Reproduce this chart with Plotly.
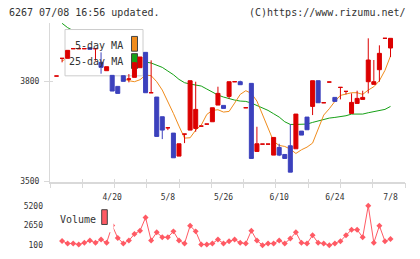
import plotly.graph_objects as go

# ---------------- data ----------------
date_labels = ["4/20", "5/8", "5/26", "6/10", "6/24", "7/8"]
date_index = [10, 20, 30, 40, 50, 60]

opens = [3815, 3868, 3868, 3897, 3897, 3897, 3900, 3897, 3856, 3831,
         3817, 3784, 3816, 3806, 3811, 3840, 3886, 3765, 3752, 3693,
         3660, 3644, 3575, 3641, 3653, 3658, 3665, 3671, 3678, 3728,
         3727, 3754, 3798, 3798, 3720, 3793, 3589, 3611, 3611, 3578,
         3601, 3580, 3606, 3597, 3650, 3692, 3724, 3801, 3735, 3797,
         3751, 3781, 3769, 3703, 3733, 3745, 3798, 3790, 3834, 3928,
         3899]
highs = [3815, 3868, 3892, 3897, 3897, 3897, 3900, 3897, 3886, 3843,
         3817, 3784, 3816, 3821, 3855, 3872, 3886, 3862, 3752, 3693,
         3660, 3644, 3612, 3641, 3801, 3798, 3665, 3671, 3720, 3783,
         3727, 3798, 3798, 3801, 3720, 3793, 3663, 3611, 3611, 3631,
         3612, 3580, 3671, 3701, 3650, 3692, 3801, 3801, 3735, 3797,
         3751, 3781, 3769, 3763, 3771, 3771, 3928, 3863, 3907, 3928,
         3928]
lows = [3815, 3856, 3868, 3897, 3897, 3897, 3895, 3861, 3822, 3831,
        3770, 3763, 3799, 3796, 3811, 3840, 3765, 3765, 3634, 3626,
        3653, 3570, 3575, 3614, 3653, 3648, 3665, 3671, 3678, 3728,
        3718, 3747, 3798, 3789, 3720, 3568, 3589, 3611, 3611, 3578,
        3575, 3568, 3527, 3597, 3638, 3654, 3698, 3735, 3735, 3797,
        3739, 3745, 3760, 3703, 3733, 3745, 3763, 3790, 3798, 3928,
        3872]
closes = [3815, 3868, 3892, 3897, 3897, 3897, 3895, 3897, 3841, 3843,
          3770, 3763, 3799, 3806, 3855, 3872, 3765, 3765, 3634, 3653,
          3660, 3570, 3612, 3641, 3801, 3715, 3665, 3671, 3720, 3763,
          3718, 3798, 3798, 3789, 3720, 3568, 3612, 3611, 3611, 3631,
          3578, 3568, 3527, 3701, 3638, 3654, 3801, 3735, 3735, 3797,
          3739, 3781, 3769, 3736, 3748, 3751, 3863, 3798, 3883, 3928,
          3928]

ma5 = [None, 3860, 3870, 3880, 3888, 3893, 3896, 3897, 3890, 3878,
       3860, 3835, 3807, 3801, 3798, 3804, 3818, 3816, 3798, 3773,
       3739, 3703, 3665, 3629, 3630, 3653, 3668, 3700, 3712, 3714,
       3707, 3709, 3734, 3760, 3771, 3763, 3740, 3698, 3661, 3619,
       3607, 3604, 3596, 3583, 3594, 3602, 3614, 3658, 3698, 3717,
       3739, 3757, 3760, 3765, 3765, 3760, 3773, 3783, 3801, 3832,
       3875]
ma25 = [None, 3973, 3960, 3951, 3942, 3934, 3925, 3916, 3907, 3900,
        3892, 3886, 3881, 3875, 3869, 3863, 3857, 3854, 3848, 3841,
        3830, 3819, 3805, 3795, 3791, 3788, 3785, 3776, 3767, 3758,
        3752, 3747, 3743, 3740, 3739, 3734, 3727, 3721, 3712, 3702,
        3692, 3678, 3670, 3670, 3670, 3671, 3676, 3681, 3685, 3689,
        3691, 3693, 3696, 3701, 3701, 3701, 3705, 3709, 3711, 3715,
        3724]
volume = [None, 650, 317, 317, 190, 400, 700, 400, 825, 400,
          2650, 1030, 317, 700, 1540, 1970, 3670, 700, 1760, 1120,
          1120, 1885, 700, 317, 2610, 1885, 190, 190, 317, 825,
          317, 610, 825, 400, 317, 1970, 700, 100, 317, 317,
          700, 317, 955, 1760, 400, 317, 1375, 400, 317, 100,
          317, 610, 1375, 2100, 2100, 1120, 5200, 400, 2610, 610,
          900]

price_ticks = [3500, 3800]
volume_ticks = [100, 2650, 5200]

# ---------------- styling ----------------
W, H = 420, 259
RED = "#dc0000"
BLUE = "#3c41bd"
ORANGE = "#f08c1c"
GREEN = "#16a016"
VOLC = "#ff5a64"
GRID = "#d9d9d9"
TXT = "#333333"
FONT = "DejaVu Sans Mono"

idx = list(range(len(opens)))
X_RANGE = [-1.17, 62.6]
Y_RANGE = [3498.5, 3975]
V_RANGE = [-410, 5710]

# plot area in pixels
PX_L, PX_R, PX_T, PX_B = 50, 405, 23, 184.5
VX_T, VX_B = 205, 253

xdom = [PX_L / W, PX_R / W]
ydom = [(H - PX_B) / H, (H - PX_T) / H]
vdom = [(H - VX_B) / H, (H - VX_T) / H]

fig = go.Figure()

# moving averages (main subplot, drawn first)
fig.add_trace(go.Scatter(x=idx, y=ma25, mode="lines", line=dict(color=GREEN, width=1),
                         hoverinfo="skip", showlegend=False, xaxis="x", yaxis="y"))
fig.add_trace(go.Scatter(x=idx, y=ma5, mode="lines", line=dict(color=ORANGE, width=1),
                         hoverinfo="skip", showlegend=False, xaxis="x", yaxis="y"))

# legend box (pixel overlay axes, above the lines, below the candles)
def rect(x0, y0, x1, y1):
    return [x0, x1, x1, x0, x0], [y0, y0, y1, y1, y0]

bx, by = rect(65, 30, 143, 77)
fig.add_trace(go.Scatter(x=bx, y=by, mode="lines", fill="toself", fillcolor="white",
                         line=dict(color="#cccccc", width=1), hoverinfo="skip",
                         showlegend=False, xaxis="x2", yaxis="y2"))
sx, sy = rect(131.5, 37, 137.5, 52)
fig.add_trace(go.Scatter(x=sx, y=sy, mode="lines", fill="toself", fillcolor=ORANGE,
                         line=dict(color="#444444", width=1), hoverinfo="skip",
                         showlegend=False, xaxis="x2", yaxis="y2"))
sx, sy = rect(131.5, 54.5, 137.5, 69.5)
fig.add_trace(go.Scatter(x=sx, y=sy, mode="lines", fill="toself", fillcolor=GREEN,
                         line=dict(color="#444444", width=1), hoverinfo="skip",
                         showlegend=False, xaxis="x2", yaxis="y2"))

# candles (overlay subplot, on top)
for up, col in ((True, RED), (False, BLUE)):
    sel = [i for i in idx if (closes[i] >= opens[i]) == up]
    fig.add_trace(go.Candlestick(
        x=sel,
        open=[opens[i] for i in sel], high=[highs[i] for i in sel],
        low=[lows[i] for i in sel], close=[closes[i] for i in sel],
        increasing=dict(line=dict(color=col, width=1), fillcolor=col),
        decreasing=dict(line=dict(color=col, width=1), fillcolor=col),
        whiskerwidth=0, hoverinfo="skip", showlegend=False,
        xaxis="x3", yaxis="y3"))

# volume
fig.add_trace(go.Scatter(x=idx, y=volume, mode="lines+markers",
                         line=dict(color=VOLC, width=1),
                         marker=dict(symbol="diamond", size=4.6, color=VOLC),
                         hoverinfo="skip", showlegend=False, xaxis="x5", yaxis="y5"))

ndiv = 11
fig.update_layout(
    width=W, height=H, margin=dict(l=0, r=0, t=0, b=0),
    paper_bgcolor="white", plot_bgcolor="rgba(0,0,0,0)",
    font=dict(family=FONT, color=TXT, size=8),
    boxgap=0.28, boxgroupgap=0,
    xaxis=dict(domain=xdom, range=X_RANGE, anchor="y", showgrid=False, zeroline=False,
               showline=True, linecolor=GRID, linewidth=2, ticks="",
               tickmode="array", tickvals=date_index, ticktext=date_labels,
               tickfont=dict(size=8, color=TXT), ticklabelstandoff=7),
    yaxis=dict(domain=ydom, range=Y_RANGE, anchor="x", showgrid=False, zeroline=False,
               showline=True, linecolor=GRID, linewidth=1, ticks="outside", ticklen=5,
               tickcolor=GRID, tickwidth=1, tickmode="array", tickvals=price_ticks,
               ticktext=[str(v) for v in price_ticks], tickfont=dict(size=8, color=TXT),
               ticklabelstandoff=3),
    xaxis2=dict(overlaying="x", anchor="y2", range=[PX_L, PX_R], showgrid=False,
                zeroline=False, showline=False, showticklabels=False,
                ticks="inside", ticklen=3, tickcolor=GRID, tickwidth=1,
                tick0=PX_L, dtick=(PX_R - PX_L) / ndiv),
    yaxis2=dict(overlaying="y", anchor="x2", range=[PX_B, PX_T], showgrid=False,
                zeroline=False, showline=False, showticklabels=False, ticks=""),
    xaxis3=dict(overlaying="x", anchor="y3", range=X_RANGE, showgrid=False,
                zeroline=False, showline=False, showticklabels=False,
                ticks="outside", ticklen=5, tickcolor=GRID, tickwidth=1,
                tick0=X_RANGE[0], dtick=(X_RANGE[1] - X_RANGE[0]) / ndiv,
                rangeslider=dict(visible=False)),
    yaxis3=dict(overlaying="y", anchor="x3", range=Y_RANGE, showgrid=False,
                zeroline=False, showline=False, showticklabels=False,
                ticks="inside", ticklen=3, tickcolor=GRID, tickwidth=1,
                tickmode="array", tickvals=price_ticks),
    xaxis5=dict(domain=xdom, range=X_RANGE, anchor="y5", showgrid=False, zeroline=False,
                showline=False, showticklabels=False, ticks=""),
    yaxis5=dict(domain=vdom, range=V_RANGE, anchor="x5", showgrid=False, zeroline=False,
                showline=False, ticks="", tickmode="array", tickvals=volume_ticks,
                ticktext=[str(v) for v in volume_ticks], tickfont=dict(size=8, color=TXT),
                ticklabelstandoff=6),
    showlegend=False,
)

def px(x):
    return x / W

def py(y):
    return 1 - y / H

# white backing of the volume legend (hides the line behind it), then its swatch
fig.add_shape(type="rect", xref="paper", yref="paper",
              x0=px(54), x1=px(113.5), y0=py(236), y1=py(207),
              fillcolor="white", line=dict(width=0))
fig.add_shape(type="rect", xref="paper", yref="paper",
              x0=px(101.7), x1=px(107.3), y0=py(228), y1=py(213),
              fillcolor=VOLC, line=dict(color="#444444", width=1))

ann = [
    dict(text="6267 07/08 16:56 updated.", x=px(7), y=py(12.5), xanchor="left"),
    dict(text="(C)https://www.rizumu.net/", x=px(408), y=py(12.5), xanchor="right"),
    dict(text="5-day MA", x=px(125), y=py(46), xanchor="right"),
    dict(text="25-day MA", x=px(125), y=py(62.5), xanchor="right"),
    dict(text="Volume", x=px(58), y=py(222.5), xanchor="left"),
]
for a in ann:
    fig.add_annotation(xref="paper", yref="paper", yanchor="middle", showarrow=False,
                       font=dict(family=FONT, size=10, color=TXT), **a)

fig.write_html("out.html")
